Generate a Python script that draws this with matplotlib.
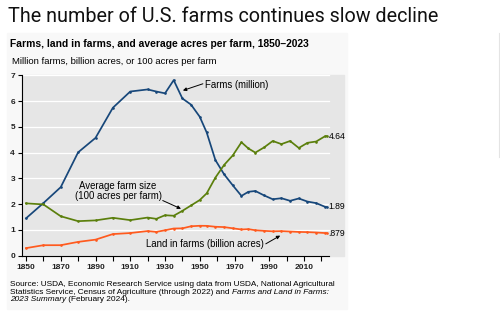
import matplotlib
matplotlib.use("Agg")
import matplotlib.pyplot as plt
from matplotlib.patches import Rectangle
import numpy as np

plt.rcParams['font.family'] = ['Liberation Sans', 'DejaVu Sans']

# census years shared by all three series
years = [1850, 1860, 1870, 1880, 1890, 1900, 1910, 1920, 1925, 1930, 1935,
         1940, 1945, 1950, 1954, 1959, 1964, 1969, 1974, 1978, 1982, 1987,
         1992, 1997, 2002, 2007, 2012, 2017, 2022, 2023]
farms = [1.45, 2.04, 2.66, 4.01, 4.57, 5.74, 6.37, 6.45, 6.37, 6.30, 6.81,
         6.10, 5.86, 5.39, 4.78, 3.71, 3.16, 2.73, 2.32, 2.48, 2.51, 2.34,
         2.19, 2.23, 2.13, 2.22, 2.10, 2.04, 1.90, 1.89]
avg_size = [2.03, 1.99, 1.53, 1.34, 1.37, 1.47, 1.38, 1.48, 1.43, 1.57, 1.55,
            1.74, 1.95, 2.16, 2.42, 3.03, 3.52, 3.89, 4.40, 4.16, 4.00, 4.20,
            4.45, 4.33, 4.45, 4.18, 4.38, 4.43, 4.63, 4.64]
land = [0.294, 0.407, 0.408, 0.536, 0.623, 0.839, 0.879, 0.956, 0.924, 0.987,
        1.055, 1.061, 1.142, 1.161, 1.158, 1.123, 1.110, 1.063, 1.017, 1.030,
        0.987, 0.964, 0.946, 0.954, 0.938, 0.922, 0.915, 0.900, 0.880, 0.879]
end_labels = ['1.89', '4.64', '.879']
xtick_years = list(range(1850, 2011, 20))

c_farms = '#17477a'
c_size = '#5b7f0c'
c_land = '#ff5a1e'

fig = plt.figure(figsize=(5, 3.21), dpi=100)
W, H = 500, 321


def fx(px):
    return px / W


def fy(py):
    return 1 - py / H


# faint panel behind subtitle, chart and source
fig.add_artist(Rectangle((fx(7), fy(309)), fx(340), (309 - 33) / H,
                         transform=fig.transFigure, color='#f8f8f8', zorder=-3))
fig.add_artist(plt.Line2D([fx(499), fx(499)], [fy(33), fy(157)],
                          transform=fig.transFigure, color='#e4e4e4', lw=0.8))

fig.text(fx(8), fy(17), 'The number of U.S. farms continues slow decline',
         fontsize=14.2, family='Roboto', va='center', ha='left', color='#111111')
fig.text(fx(10), fy(44), 'Farms, land in farms, and average acres per farm, 1850\u20132023',
         fontsize=7.4, fontweight='bold', va='center')
fig.text(fx(12), fy(61), 'Million farms, billion acres, or 100 acres per farm',
         fontsize=6.8, va='center')

# gray backdrop extends right of the axis to hold end labels
fig.add_artist(Rectangle((fx(22), fy(255.7)), fx(322), (255.7 - 74.5) / H,
                         transform=fig.transFigure, color='#e6e6e6', zorder=-2))

ax = fig.add_axes([fx(22), fy(255.7), fx(322), (255.7 - 74.5) / H])
ax.patch.set_alpha(0)
x0 = 1850 - 4 / 1.7375
x1 = 1850 + 322 / 1.7375 - 4 / 1.7375
xg = 1850 + 303 / 1.7375
ax.set_xlim(x0, x1)
ax.set_ylim(0, 7.03)

for v in range(1, 8):
    ax.plot([x0, xg], [v, v], color='white', lw=0.9, zorder=1)

kw = dict(lw=1.25, marker='o', markersize=0.9, zorder=3)
ax.plot(years, farms, color=c_farms, **kw)
ax.plot(years, avg_size, color=c_size, **kw)
ax.plot(years, land, color=c_land, **kw)

for s in ['top', 'right']:
    ax.spines[s].set_visible(False)
ax.spines['left'].set_linewidth(0.8)
ax.spines['bottom'].set_linewidth(0.8)
ax.spines['bottom'].set_bounds(x0, xg)
ax.set_yticks(range(0, 8))
ax.set_xticks(xtick_years)
ax.set_xticks(range(1850, 2021, 10), minor=True)
ax.tick_params(axis='y', length=3, width=0.8, pad=2, labelsize=6)
ax.tick_params(axis='x', which='both', length=3.5, width=0.8, pad=2.5, labelsize=6)
for lab in ax.get_xticklabels() + ax.get_yticklabels():
    lab.set_fontweight('bold')
    lab.set_color('#222222')

# end labels
for series, lab in zip([farms, avg_size, land], end_labels):
    ax.annotate(lab, (years[-1], series[-1]), xytext=(1.5, 0), textcoords='offset points',
                fontsize=6.2, va='center', ha='left')

arrow = dict(arrowstyle='-|>', color='black', lw=0.7, mutation_scale=5,
             shrinkA=0, shrinkB=0)
ax.annotate('', xy=(1940.3, 6.41), xytext=(1951.8, 6.67), arrowprops=arrow)
ax.text(1953, 6.63, 'Farms (million)', fontsize=6.9, va='center', ha='left')
ax.text(1903, 2.52, 'Average farm size\n(100 acres per farm)', fontsize=6.9,
        ha='center', va='center', linespacing=1.05)
ax.annotate('', xy=(1939.2, 1.82), xytext=(1928.7, 2.14), arrowprops=arrow)
ax.text(1919, 0.45, 'Land in farms (billion acres)', fontsize=6.9, va='center', ha='left')
ax.annotate('', xy=(1996.3, 0.78), xytext=(1988, 0.46), arrowprops=arrow)

# source note with italic pieces
src = dict(fontsize=5.95, va='bottom', ha='left')
fig.text(fx(10), fy(288), 'Source: USDA, Economic Research Service using data from USDA, National Agricultural', **src)
t2 = fig.text(fx(10), fy(295.5), 'Statistics Service, Census of Agriculture (through 2022) and ', **src)
ax.annotate('Farms and Land in Farms:', xy=(1, 0), xycoords=t2, fontstyle='italic',
            annotation_clip=False, **src)
t3 = fig.text(fx(10), fy(303), '2023 Summary', fontstyle='italic', **src)
ax.annotate(' (February 2024).', xy=(1, 0), xycoords=t3, annotation_clip=False, **src)

fig.savefig('out.png', dpi=100)
